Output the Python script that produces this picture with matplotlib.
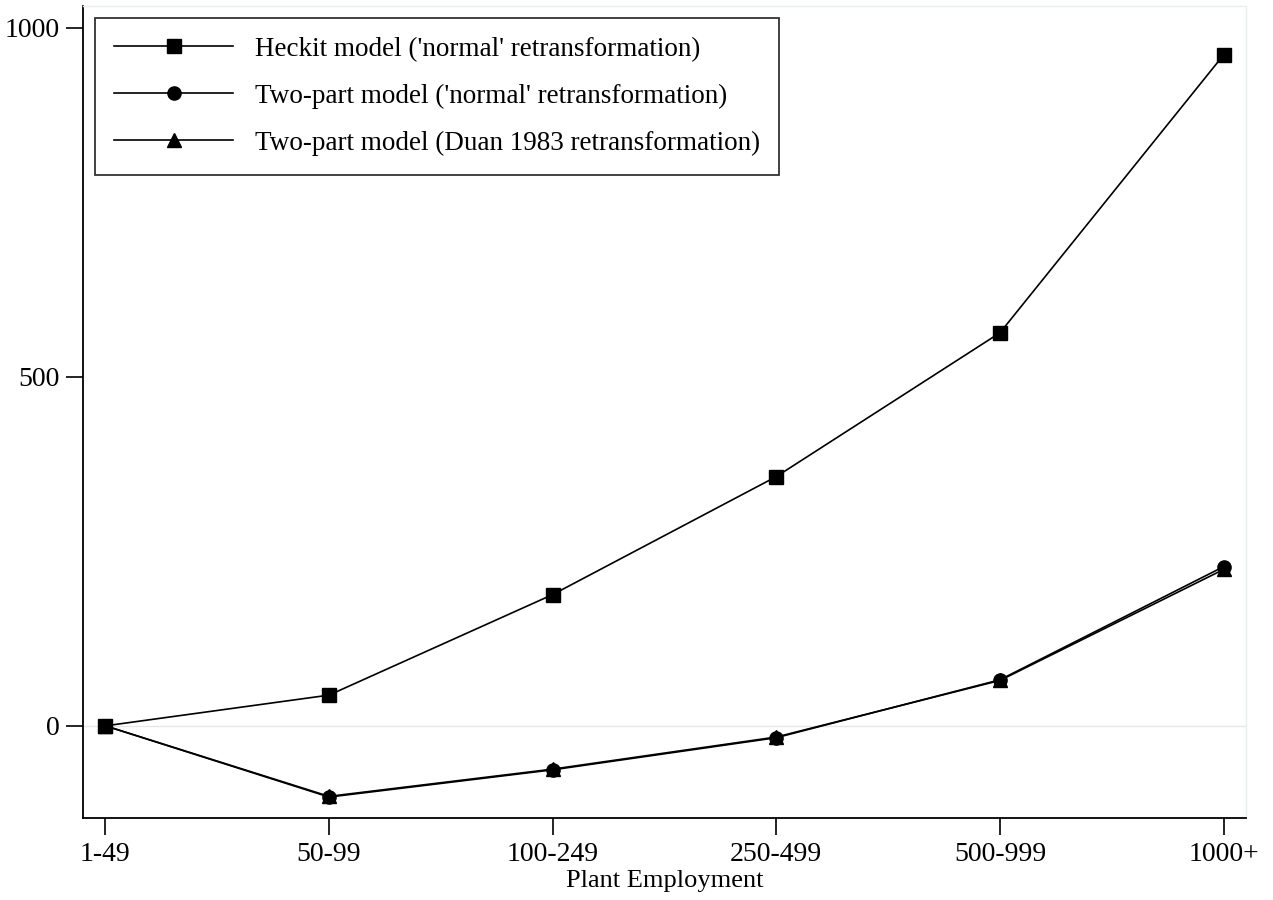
import matplotlib
matplotlib.use("Agg")
import matplotlib.pyplot as plt

categories = ["1-49", "50-99", "100-249", "250-499", "500-999", "1000+"]
heckit = [0, 44, 188, 357, 563, 961]
twopart_normal = [0, -102, -63, -17, 66, 228]
twopart_duan = [0, -101, -62, -16, 65, 224]
labels = ["Heckit model ('normal' retransformation)",
          "Two-part model ('normal' retransformation)",
          "Two-part model (Duan 1983 retransformation)"]
yticks = [0, 500, 1000]

plt.rcParams['font.family'] = ['Liberation Serif', 'DejaVu Serif']

fig = plt.figure(figsize=(12.73, 9.0), dpi=100)
ax = fig.add_axes([83/1273, 1 - 818/900, (1246-83)/1273, (818-6)/900])

x = list(range(len(categories)))
ax.axhline(0, color='#e3e8ea', lw=1.0, zorder=0)
ax.plot(x, heckit, color='black', lw=1.2, marker='s', ms=9.5, label=labels[0])
ax.plot(x, twopart_normal, color='black', lw=1.2, marker='o', ms=9.5, label=labels[1])
ax.plot(x, twopart_duan, color='black', lw=1.2, marker='^', ms=10, label=labels[2])

ax.set_xlim(-0.1, 5.1)
ax.set_ylim(-132, 1031)
ax.set_xticks(x)
ax.set_xticklabels(categories)
ax.set_yticks(yticks)
ax.tick_params(axis='both', direction='out', length=12, width=1.2, labelsize=20, colors='black', pad=5)
fig.text(0.5 * (83 + 1246) / 1273, 1 - 881/900, "Plant Employment", fontsize=19,
         ha='center', va='center')

for s in ['left', 'bottom']:
    ax.spines[s].set_color('black')
    ax.spines[s].set_linewidth(1.3)
for s in ['top', 'right']:
    ax.spines[s].set_color('#e6eef0')
    ax.spines[s].set_linewidth(1.0)

leg = ax.legend(loc='upper left', bbox_to_anchor=(12/1163, 1 - 12/812), fontsize=19.5,
                frameon=True, fancybox=False, edgecolor='black', handlelength=4.4,
                borderpad=0.7, labelspacing=0.8, handletextpad=0.8, borderaxespad=0)
leg.get_frame().set_linewidth(1.3)

fig.savefig("out.png", dpi=100)
